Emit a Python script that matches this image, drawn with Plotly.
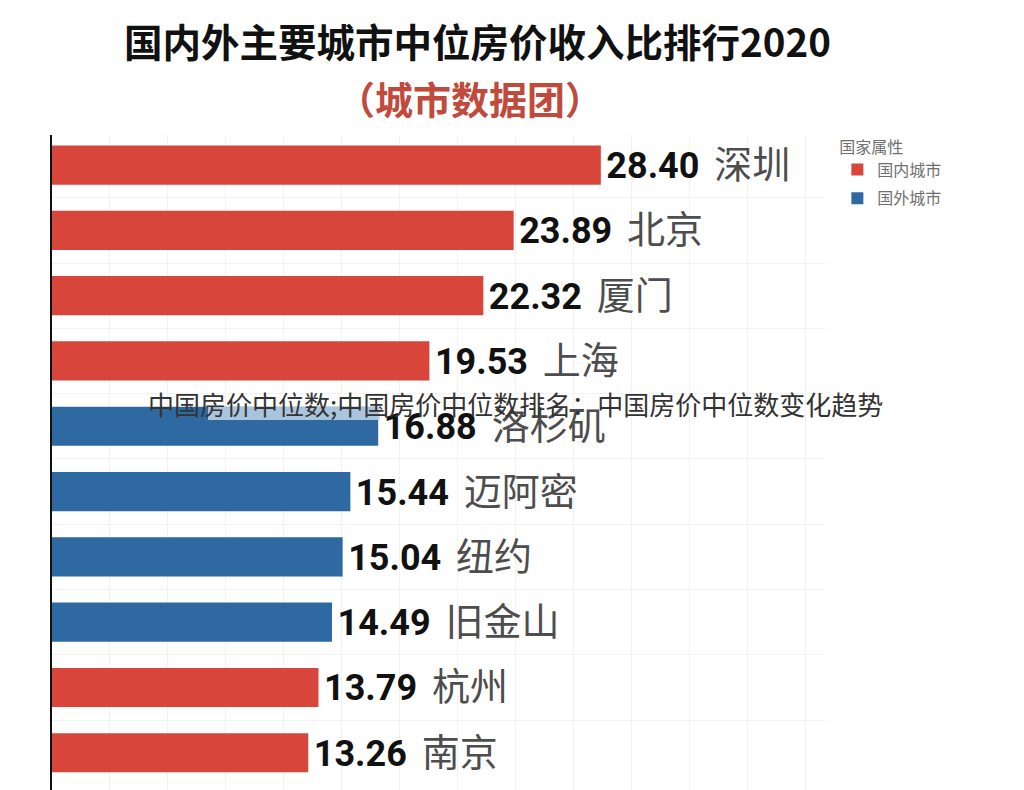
import plotly.graph_objects as go

# data
cities = ["深圳", "北京", "厦门", "上海", "洛杉矶", "迈阿密", "纽约", "旧金山", "杭州", "南京"]
ratios = [28.40, 23.89, 22.32, 19.53, 16.88, 15.44, 15.04, 14.49, 13.79, 13.26]
groups = ["国内城市", "国内城市", "国内城市", "国内城市", "国外城市",
          "国外城市", "国外城市", "国外城市", "国内城市", "国内城市"]

group_names = ["国内城市", "国外城市"]
group_colors = {"国内城市": "#D8463B", "国外城市": "#2E6AA1"}

title_text = "国内外主要城市中位房价收入比排行2020"
subtitle_text = "（城市数据团）"
overlay_text = "中国房价中位数;中国房价中位数排名：中国房价中位数变化趋势"

FONT = "Roboto, Noto Sans CJK SC, sans-serif"
CJK = "Noto Sans CJK SC, sans-serif"

# page body adds an 8px margin, so the figure is drawn 8px smaller
PW, PH = 773, 655  # plot area in pixels

fig = go.Figure()

for g in group_names:
    xs, ys, txt = [], [], []
    for c, v, gg in zip(cities, ratios, groups):
        if gg != g:
            continue
        xs.append(v)
        ys.append(c)
        txt.append("<span style='font-size:10px'> </span><b>%.2f</b>"
                   "<span style='font-size:30px'>  </span>"
                   "<span style='color:#4d4d4d;font-size:38px'>%s</span>" % (v, c))
    fig.add_trace(go.Bar(
        x=xs, y=ys, orientation="h", name=g, legendgroup=g,
        marker=dict(color=group_colors[g], line=dict(width=0)),
        width=0.6,
        text=txt, textposition="outside", constraintext="none",
        cliponaxis=False,
        textfont=dict(family=FONT, size=36, color="#111111"),
        hoverinfo="skip",
    ))

fig.update_layout(
    width=1016, height=782,
    margin=dict(l=44, r=199, t=127, b=0),
    paper_bgcolor="white", plot_bgcolor="white",
    barmode="overlay",
    showlegend=True,
    legend=dict(
        x=1.016, y=1.005, xanchor="left", yanchor="top",
        title=dict(text="国家属性", font=dict(family=CJK, size=16, color="#707070")),
        font=dict(family=CJK, size=16, color="#707070"),
        bgcolor="rgba(0,0,0,0)", tracegroupgap=5, itemwidth=30,
    ),
)

fig.update_xaxes(
    range=[0, 40], dtick=3, showgrid=True, gridcolor="#f2f2f2", gridwidth=1,
    showticklabels=False, zeroline=False, showline=False, ticks="",
)
fig.update_yaxes(
    categoryorder="array", categoryarray=cities,
    range=[9.57, -0.46],
    showgrid=True, gridcolor="#f2f2f2", tickson="boundaries",
    showticklabels=False, ticks="",
    showline=True, linecolor="#111111", linewidth=2, zeroline=False,
)

# titles
fig.add_annotation(
    x=(477 - 52) / PW, y=1 + (135 - 40) / PH, xref="paper", yref="paper",
    text="<b>%s</b>" % title_text, showarrow=False,
    font=dict(family=CJK, size=38.5, color="#111111"),
    xanchor="center", yanchor="middle",
)
fig.add_annotation(
    x=(470 - 52) / PW, y=1 + (135 - 97) / PH, xref="paper", yref="paper",
    text="<b>%s</b>" % subtitle_text, showarrow=False,
    font=dict(family=CJK, size=38, color="#C04A3C"),
    xanchor="center", yanchor="middle",
)

# watermark strip and caption overlaid on the screenshot
fig.add_shape(
    type="rect", xref="paper", yref="paper",
    x0=(208 - 52) / PW, x1=(380 - 52) / PW,
    y0=1 - (420 - 135) / PH, y1=1 - (407 - 135) / PH,
    fillcolor="rgba(190,212,232,0.85)", line=dict(width=0), layer="above",
)
fig.add_annotation(
    x=(515 - 52) / PW, y=1 - (404 - 135) / PH, xref="paper", yref="paper",
    text=overlay_text, showarrow=False,
    font=dict(family=CJK, size=26, color="#333333"),
    xanchor="center", yanchor="middle",
)

fig.write_html("out.html")
